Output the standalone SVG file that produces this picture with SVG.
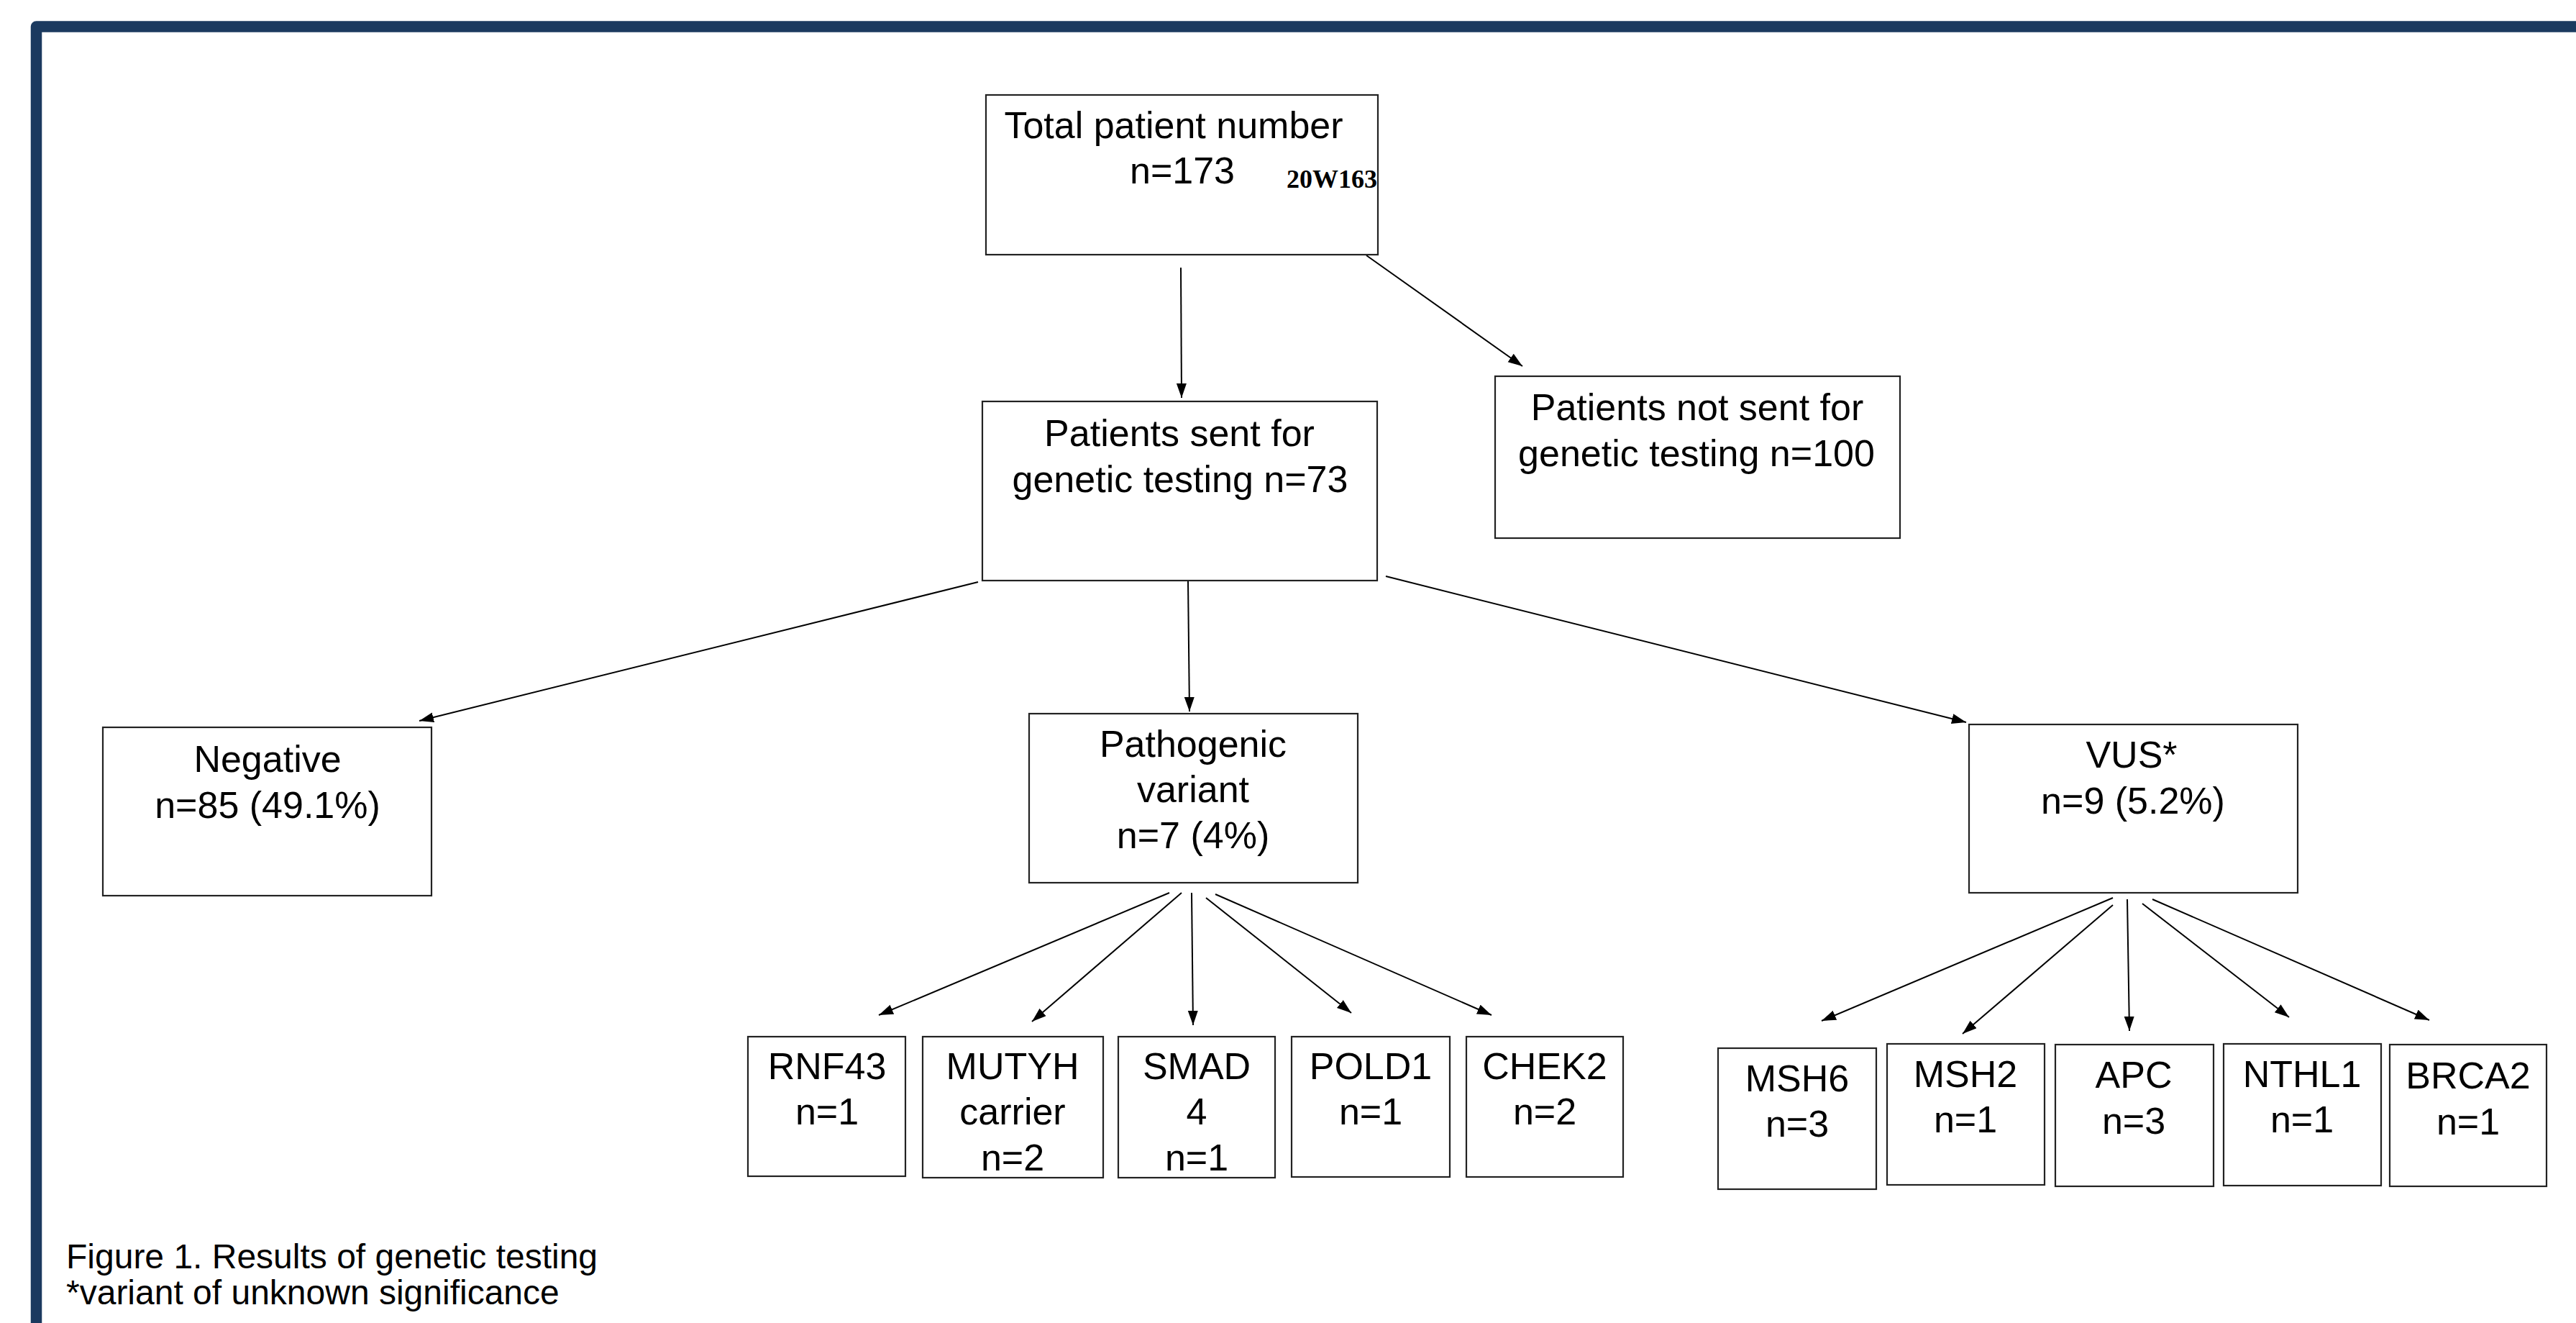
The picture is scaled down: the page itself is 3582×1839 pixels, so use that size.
<svg xmlns="http://www.w3.org/2000/svg" width="3582" height="1839" viewBox="0 0 3582 1839">
<style>
.box{fill:#fff;stroke:#222;stroke-width:2.2}
.t{font-family:"Liberation Sans",Arial,sans-serif;font-size:52px;fill:#000;text-anchor:middle}
.conn line{stroke:#000;stroke-width:2;marker-end:url(#ah)}
.foot{font-family:"Liberation Sans",Arial,sans-serif;font-size:48px;fill:#000}
.code{font-family:"Liberation Serif","Times New Roman",serif;font-weight:bold;font-size:36px;fill:#000}
</style>
<defs>
<marker id="ah" markerUnits="userSpaceOnUse" markerWidth="22" markerHeight="16" refX="20" refY="7" orient="auto">
<path d="M0,0 L20,7 L0,14 z" fill="#000"/>
</marker>
</defs>
<rect width="3582" height="1839" fill="#fff"/>
<path d="M50.5,1850 V37 H3600" fill="none" stroke="#1b3a5f" stroke-width="15.5" stroke-linejoin="round"/>

<g id="connectors" class="conn">
<line x1="1642" y1="372" x2="1643" y2="553"/>
<line x1="1900" y1="355" x2="2117" y2="509"/>
<line x1="1360" y1="809" x2="583" y2="1002"/>
<line x1="1652" y1="808" x2="1654" y2="989"/>
<line x1="1927" y1="801" x2="2734" y2="1004"/>
<line x1="1626" y1="1241" x2="1222" y2="1411"/>
<line x1="1643" y1="1241" x2="1435" y2="1420"/>
<line x1="1657" y1="1241" x2="1659" y2="1425"/>
<line x1="1677" y1="1248" x2="1879" y2="1408"/>
<line x1="1690" y1="1243" x2="2074" y2="1411"/>
<line x1="2938" y1="1248" x2="2533" y2="1419"/>
<line x1="2938" y1="1258" x2="2729" y2="1437"/>
<line x1="2958" y1="1250" x2="2961" y2="1433"/>
<line x1="2979" y1="1256" x2="3183" y2="1414"/>
<line x1="2993" y1="1250" x2="3378" y2="1418"/>
</g>

<g id="total">
<rect class="box" x="1371" y="132" width="545" height="222"/>
<text class="t" x="1632" y="192">Total patient number</text>
<text class="t" x="1644" y="255">n=173</text>
<text class="code" x="1789" y="261">20W163</text>
</g>

<g id="sent">
<rect class="box" x="1366" y="558" width="549" height="249"/>
<text class="t" x="1640" y="620">Patients sent for</text>
<text class="t" x="1641" y="684">genetic testing n=73</text>
</g>

<g id="notsent">
<rect class="box" x="2079" y="523" width="563" height="225"/>
<text class="t" x="2360" y="584">Patients not sent for</text>
<text class="t" x="2359" y="648">genetic testing n=100</text>
</g>

<g id="negative">
<rect class="box" x="143" y="1011" width="457" height="234"/>
<text class="t" x="372" y="1073">Negative</text>
<text class="t" x="372" y="1137">n=85 (49.1%)</text>
</g>

<g id="pathogenic">
<rect class="box" x="1431" y="992" width="457" height="235"/>
<text class="t" x="1659" y="1052">Pathogenic</text>
<text class="t" x="1659" y="1115">variant</text>
<text class="t" x="1659" y="1179">n=7 (4%)</text>
</g>

<g id="vus">
<rect class="box" x="2738" y="1007" width="457" height="234"/>
<text class="t" x="2964" y="1067">VUS*</text>
<text class="t" x="2966" y="1131">n=9 (5.2%)</text>
</g>

<g id="rnf43">
<rect class="box" x="1040" y="1441" width="219" height="194"/>
<text class="t" x="1150" y="1500">RNF43</text>
<text class="t" x="1150" y="1563">n=1</text>
</g>
<g id="mutyh">
<rect class="box" x="1283" y="1441" width="251" height="196"/>
<text class="t" x="1408" y="1500">MUTYH</text>
<text class="t" x="1408" y="1563">carrier</text>
<text class="t" x="1408" y="1627">n=2</text>
</g>
<g id="smad4">
<rect class="box" x="1555" y="1441" width="218" height="196"/>
<text class="t" x="1664" y="1500">SMAD</text>
<text class="t" x="1664" y="1563">4</text>
<text class="t" x="1664" y="1627">n=1</text>
</g>
<g id="pold1">
<rect class="box" x="1796" y="1441" width="220" height="195"/>
<text class="t" x="1906" y="1500">POLD1</text>
<text class="t" x="1906" y="1563">n=1</text>
</g>
<g id="chek2">
<rect class="box" x="2039" y="1441" width="218" height="195"/>
<text class="t" x="2148" y="1500">CHEK2</text>
<text class="t" x="2148" y="1563">n=2</text>
</g>

<g id="msh6">
<rect class="box" x="2389" y="1457" width="220" height="196"/>
<text class="t" x="2499" y="1517">MSH6</text>
<text class="t" x="2499" y="1580">n=3</text>
</g>
<g id="msh2">
<rect class="box" x="2624" y="1451" width="219" height="196"/>
<text class="t" x="2733" y="1511">MSH2</text>
<text class="t" x="2733" y="1574">n=1</text>
</g>
<g id="apc">
<rect class="box" x="2858" y="1452" width="220" height="197"/>
<text class="t" x="2967" y="1512">APC</text>
<text class="t" x="2967" y="1576">n=3</text>
</g>
<g id="nthl1">
<rect class="box" x="3092" y="1451" width="219" height="197"/>
<text class="t" x="3201" y="1511">NTHL1</text>
<text class="t" x="3201" y="1574">n=1</text>
</g>
<g id="brca2">
<rect class="box" x="3323" y="1452" width="218" height="197"/>
<text class="t" x="3432" y="1513">BRCA2</text>
<text class="t" x="3432" y="1577">n=1</text>
</g>

<g id="caption">
<text class="foot" x="92" y="1763">Figure 1. Results of genetic testing</text>
<text class="foot" x="92" y="1813">*variant of unknown significance</text>
</g>
</svg>
